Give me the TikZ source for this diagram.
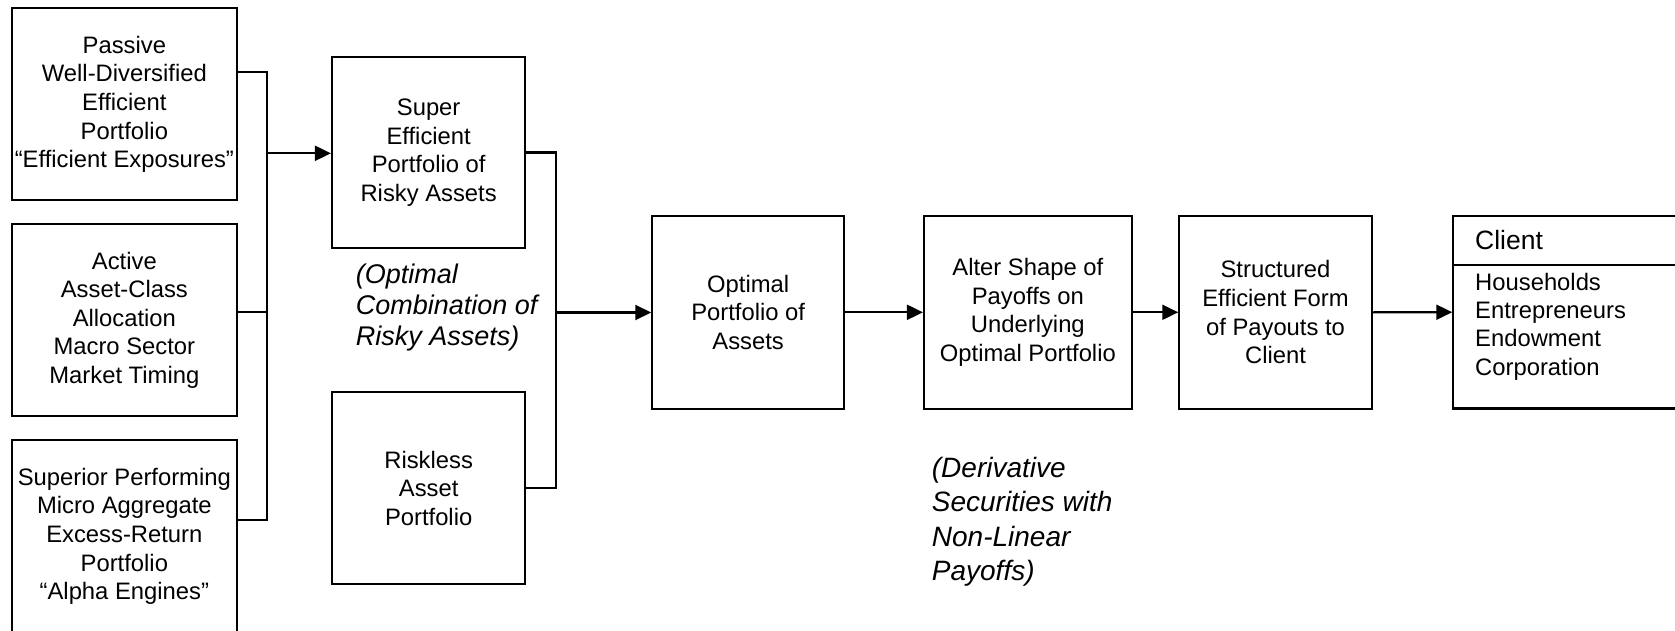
\documentclass[tikz,border=0pt]{standalone}
\usepackage{fontspec}
\setmainfont{Liberation Sans}
\usetikzlibrary{arrows.meta}
\begin{document}
\begin{tikzpicture}[x=1pt,y=-1pt,
  ln/.style={line width=2.1pt},
  box/.style={draw, ln, inner sep=0pt, align=center, font=\fontsize{23.8}{28.6}\selectfont},
  arr/.style={ln, -{Triangle[length=16pt,width=15pt]}},
  note/.style={anchor=base west, inner sep=0pt, font=\itshape\fontsize{27}{31}\selectfont},
  bignote/.style={anchor=base west, inner sep=0pt, font=\itshape\fontsize{28}{34.5}\selectfont},
  cltitle/.style={anchor=base west, inner sep=0pt, font=\fontsize{26.5}{30}\selectfont},
  clitem/.style={anchor=base west, inner sep=0pt, font=\fontsize{23.8}{28.3}\selectfont}
]
\useasboundingbox (0,0) rectangle (1675,631);
\fill[white] (0,0) rectangle (1675,631);

% left column
\node[box, minimum width=224.7pt, minimum height=192pt] (A) at (124.35,104.3)
  {Passive\\Well-Diversified\\Efficient\\Portfolio\\“Efficient Exposures”};
\node[box, minimum width=224.7pt, minimum height=192pt] (Act) at (124.35,320.2)
  {Active\\Asset-Class\\Allocation\\Macro Sector\\Market Timing};
\node[box, minimum width=224.7pt, minimum height=192pt] (C) at (124.35,536.3)
  {Superior Performing\\Micro Aggregate\\Excess-Return\\Portfolio\\“Alpha Engines”};

% second column
\node[box, minimum width=193.3pt, minimum height=191.6pt] (B) at (428.65,152.5)
  {Super\\Efficient\\Portfolio of\\Risky Assets};
\node[box, minimum width=193.3pt, minimum height=192pt] (R) at (428.65,488.3)
  {Riskless\\Asset\\Portfolio};

% chain
\node[box, minimum width=191.7pt, minimum height=192.7pt] (O) at (748.15,312.3)
  {Optimal\\Portfolio of\\Assets};
\node[box, minimum width=207.7pt, minimum height=192.7pt] (Alt) at (1027.85,312.3)
  {Alter Shape of\\Payoffs on\\Underlying\\Optimal Portfolio};
\node[box, minimum width=192.4pt, minimum height=192.7pt] (S) at (1275.5,312.3)
  {Structured\\Efficient Form\\of Payouts to\\Client};
\node[box, minimum width=300pt, minimum height=192.5pt] (Cl) at (1603.3,312.2) {};
\draw[ln] (Cl.west |- 0,264.7) -- (Cl.east |- 0,264.7);
\node[cltitle] (clt) at (1475,249.3) {Client};
\node[clitem] (cl1) at (1475,290) {Households};
\node[clitem] (cl2) at (1475,318.3) {Entrepreneurs};
\node[clitem] (cl3) at (1475,346.7) {Endowment};
\node[clitem] (cl4) at (1475,375) {Corporation};

% notes
\node[note] (n1) at (355.7,283.5) {(Optimal};
\node[note] (n2) at (355.7,314.5) {Combination of};
\node[note] (n3) at (355.7,345.5) {Risky Assets)};
\node[bignote] (d1) at (931.7,477) {(Derivative};
\node[bignote] (d2) at (931.7,511.5) {Securities with};
\node[bignote] (d3) at (931.7,546) {Non-Linear};
\node[bignote] (d4) at (931.7,580.5) {Payoffs)};

% left bus
\coordinate (L1) at (267.3,71.7);
\coordinate (L2) at (267.3,520);
\coordinate (LB) at (267.3,153.3);
\draw[ln] (A.east |- L1) -- (L1) -- (L2) -- (C.east |- L2);
\draw[ln] (Act.east |- 0,312.3) -- (267.3,312.3);
\draw[arr] (LB) -- (B.west |- LB);

% right bus
\coordinate (R1) at (555.7,152.5);
\coordinate (R2) at (555.7,488.3);
\coordinate (RB) at (555.7,312.5);
\draw[ln] (B.east) -- (R1) -- (R2) -- (R.east);
\draw[arr] (RB) -- (O.west |- RB);

% chain arrows
\draw[arr] (O.east) -- (Alt.west);
\draw[arr] (Alt.east) -- (S.west);
\draw[arr] (S.east) -- (Cl.west);
\end{tikzpicture}
\end{document}
